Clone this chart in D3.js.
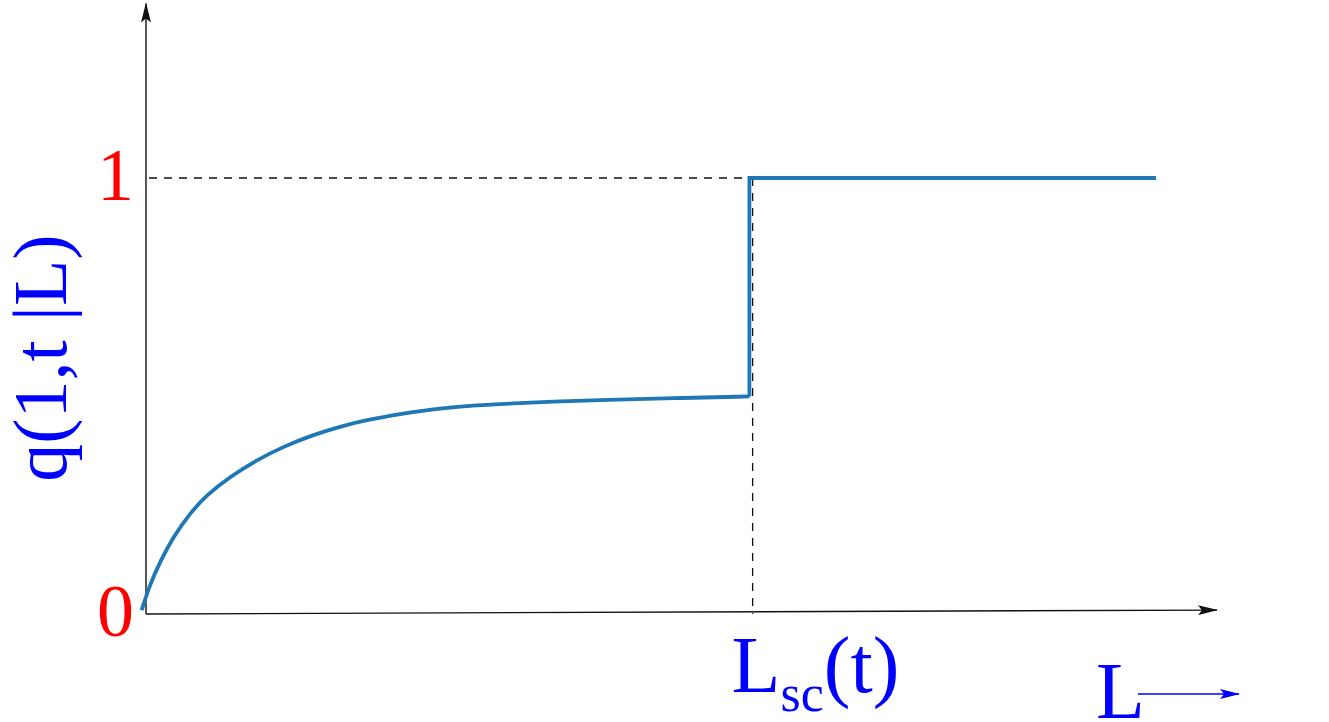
<!DOCTYPE html>
<html>
<head>
<meta charset="utf-8">
<script src="https://cdn.jsdelivr.net/npm/d3@7"></script>
<style>
  html, body { margin: 0; padding: 0; background: #fff; }
</style>
</head>
<body>
<div id="chart"></div>
<script>
// values (L in arbitrary units, q between 0 and 1)
var curveL = [-0.05, 0.028, 0.122, 0.246, 0.402, 0.558, 0.776, 1.025, 1.274, 1.555, 1.804,
              2.053, 2.396, 2.738, 3.081, 3.424, 3.766, 4.296, 4.919, 5.63];
var curveQ = [0.009, 0.068, 0.120, 0.177, 0.231, 0.273, 0.315, 0.353, 0.384, 0.411, 0.430,
              0.445, 0.460, 0.472, 0.479, 0.483, 0.487, 0.491, 0.495, 0.499];
var stepL = [5.63, 9.43];     // jump position, end of the upper plateau
var stepQ = [1.0, 1.0];
var Lsc = 5.66;
var yTicks = [0, 1];
var yTickLabels = ["0", "1"];
var xAxisEnd = 10, yAxisEnd = 1.4;

var serif = "'Liberation Serif', 'Times New Roman', Times, 'DejaVu Serif', serif";

var width = 1329, height = 722;

var svg = d3.select("#chart")
  .append("svg")
    .attr("width", width)
    .attr("height", height);

var x = d3.scaleLinear()
    .domain([0, xAxisEnd])
    .range([147, 1217]);

var y = d3.scaleLinear()
    .domain([0, 1])
    .range([614, 178]);

// arrow heads
var defs = svg.append("defs");
function arrow(id, color) {
  defs.append("marker")
      .attr("id", id)
      .attr("viewBox", "0 -5 20 10")
      .attr("refX", 19)
      .attr("refY", 0)
      .attr("markerUnits", "userSpaceOnUse")
      .attr("markerWidth", 20)
      .attr("markerHeight", 10)
      .attr("orient", "auto")
    .append("path")
      .attr("d", "M0,-5L20,0L0,5L4,0Z")
      .style("fill", color);
}
arrow("arrow-black", "#111");
arrow("arrow-blue", "#0000ff");

// dashed guides
svg.append("line")
    .attr("x1", x(0) + 2).attr("y1", y(1))
    .attr("x2", x(stepL[1])).attr("y2", y(1))
    .style("stroke", "#111").style("stroke-width", 1.3)
    .style("stroke-dasharray", "8,7");
svg.append("line")
    .attr("x1", x(Lsc)).attr("y1", y(1))
    .attr("x2", x(Lsc)).attr("y2", y(0))
    .style("stroke", "#111").style("stroke-width", 1.3)
    .style("stroke-dasharray", "8,7");

// axes
svg.append("line")
    .attr("x1", x(0) - 1).attr("y1", y(0))
    .attr("x2", x(0) - 1).attr("y2", y(yAxisEnd))
    .style("stroke", "#111").style("stroke-width", 1.4)
    .attr("marker-end", "url(#arrow-black)");
svg.append("line")
    .attr("x1", x(0) - 1).attr("y1", y(0))
    .attr("x2", x(xAxisEnd)).attr("y2", y(0.009))
    .style("stroke", "#111").style("stroke-width", 1.4)
    .attr("marker-end", "url(#arrow-black)");

// the rising curve
var pts = curveL.map((l, i) => [l, curveQ[i]]);
svg.append("path")
    .datum(pts)
    .attr("d", d3.line()
        .x(d => x(d[0]))
        .y(d => y(d[1]))
        .curve(d3.curveBasis))
    .style("fill", "none")
    .style("stroke", "#1f77b4")
    .style("stroke-width", 3.8);

// jump to 1 and the plateau
var stepPts = [pts[pts.length - 1]].concat(stepL.map((l, i) => [l, stepQ[i]]));
svg.append("path")
    .datum(stepPts)
    .attr("d", d3.line().x(d => x(d[0])).y(d => y(d[1])))
    .style("fill", "none")
    .style("stroke", "#1f77b4")
    .style("stroke-width", 3.8)
    .style("stroke-linejoin", "miter");

// y tick labels
svg.selectAll("text.ytick")
  .data(yTicks)
  .enter()
  .append("text")
    .attr("class", "ytick")
    .attr("x", x(0) - 13)
    .attr("y", d => y(d) + 22)
    .attr("text-anchor", "end")
    .attr("font-family", serif)
    .attr("font-size", 74)
    .attr("fill", "#ff0000")
    .text((d, i) => yTickLabels[i]);

// y axis title
svg.append("text")
    .attr("transform", "translate(66,358) rotate(-90)")
    .attr("text-anchor", "middle")
    .attr("font-family", serif)
    .attr("font-size", 76)
    .attr("fill", "#0000ff")
    .text("q(1,t |L)");

// L_sc(t) label
var lsc = svg.append("text")
    .attr("x", x(Lsc) - 21)
    .attr("y", 692)
    .attr("font-family", serif)
    .attr("font-size", 80)
    .attr("fill", "#0000ff");
lsc.append("tspan").text("L");
lsc.append("tspan").attr("dy", 19).attr("font-size", 52).text("sc");
lsc.append("tspan").attr("dy", -19).text("(t)");

// L with arrow
svg.append("text")
    .attr("x", 1096)
    .attr("y", 718)
    .attr("font-family", serif)
    .attr("font-size", 80)
    .attr("fill", "#0000ff")
    .text("L");
svg.append("line")
    .attr("x1", 1138).attr("y1", 694)
    .attr("x2", 1239).attr("y2", 694)
    .style("stroke", "#0000ff").style("stroke-width", 1.4)
    .attr("marker-end", "url(#arrow-blue)");
</script>
</body>
</html>
